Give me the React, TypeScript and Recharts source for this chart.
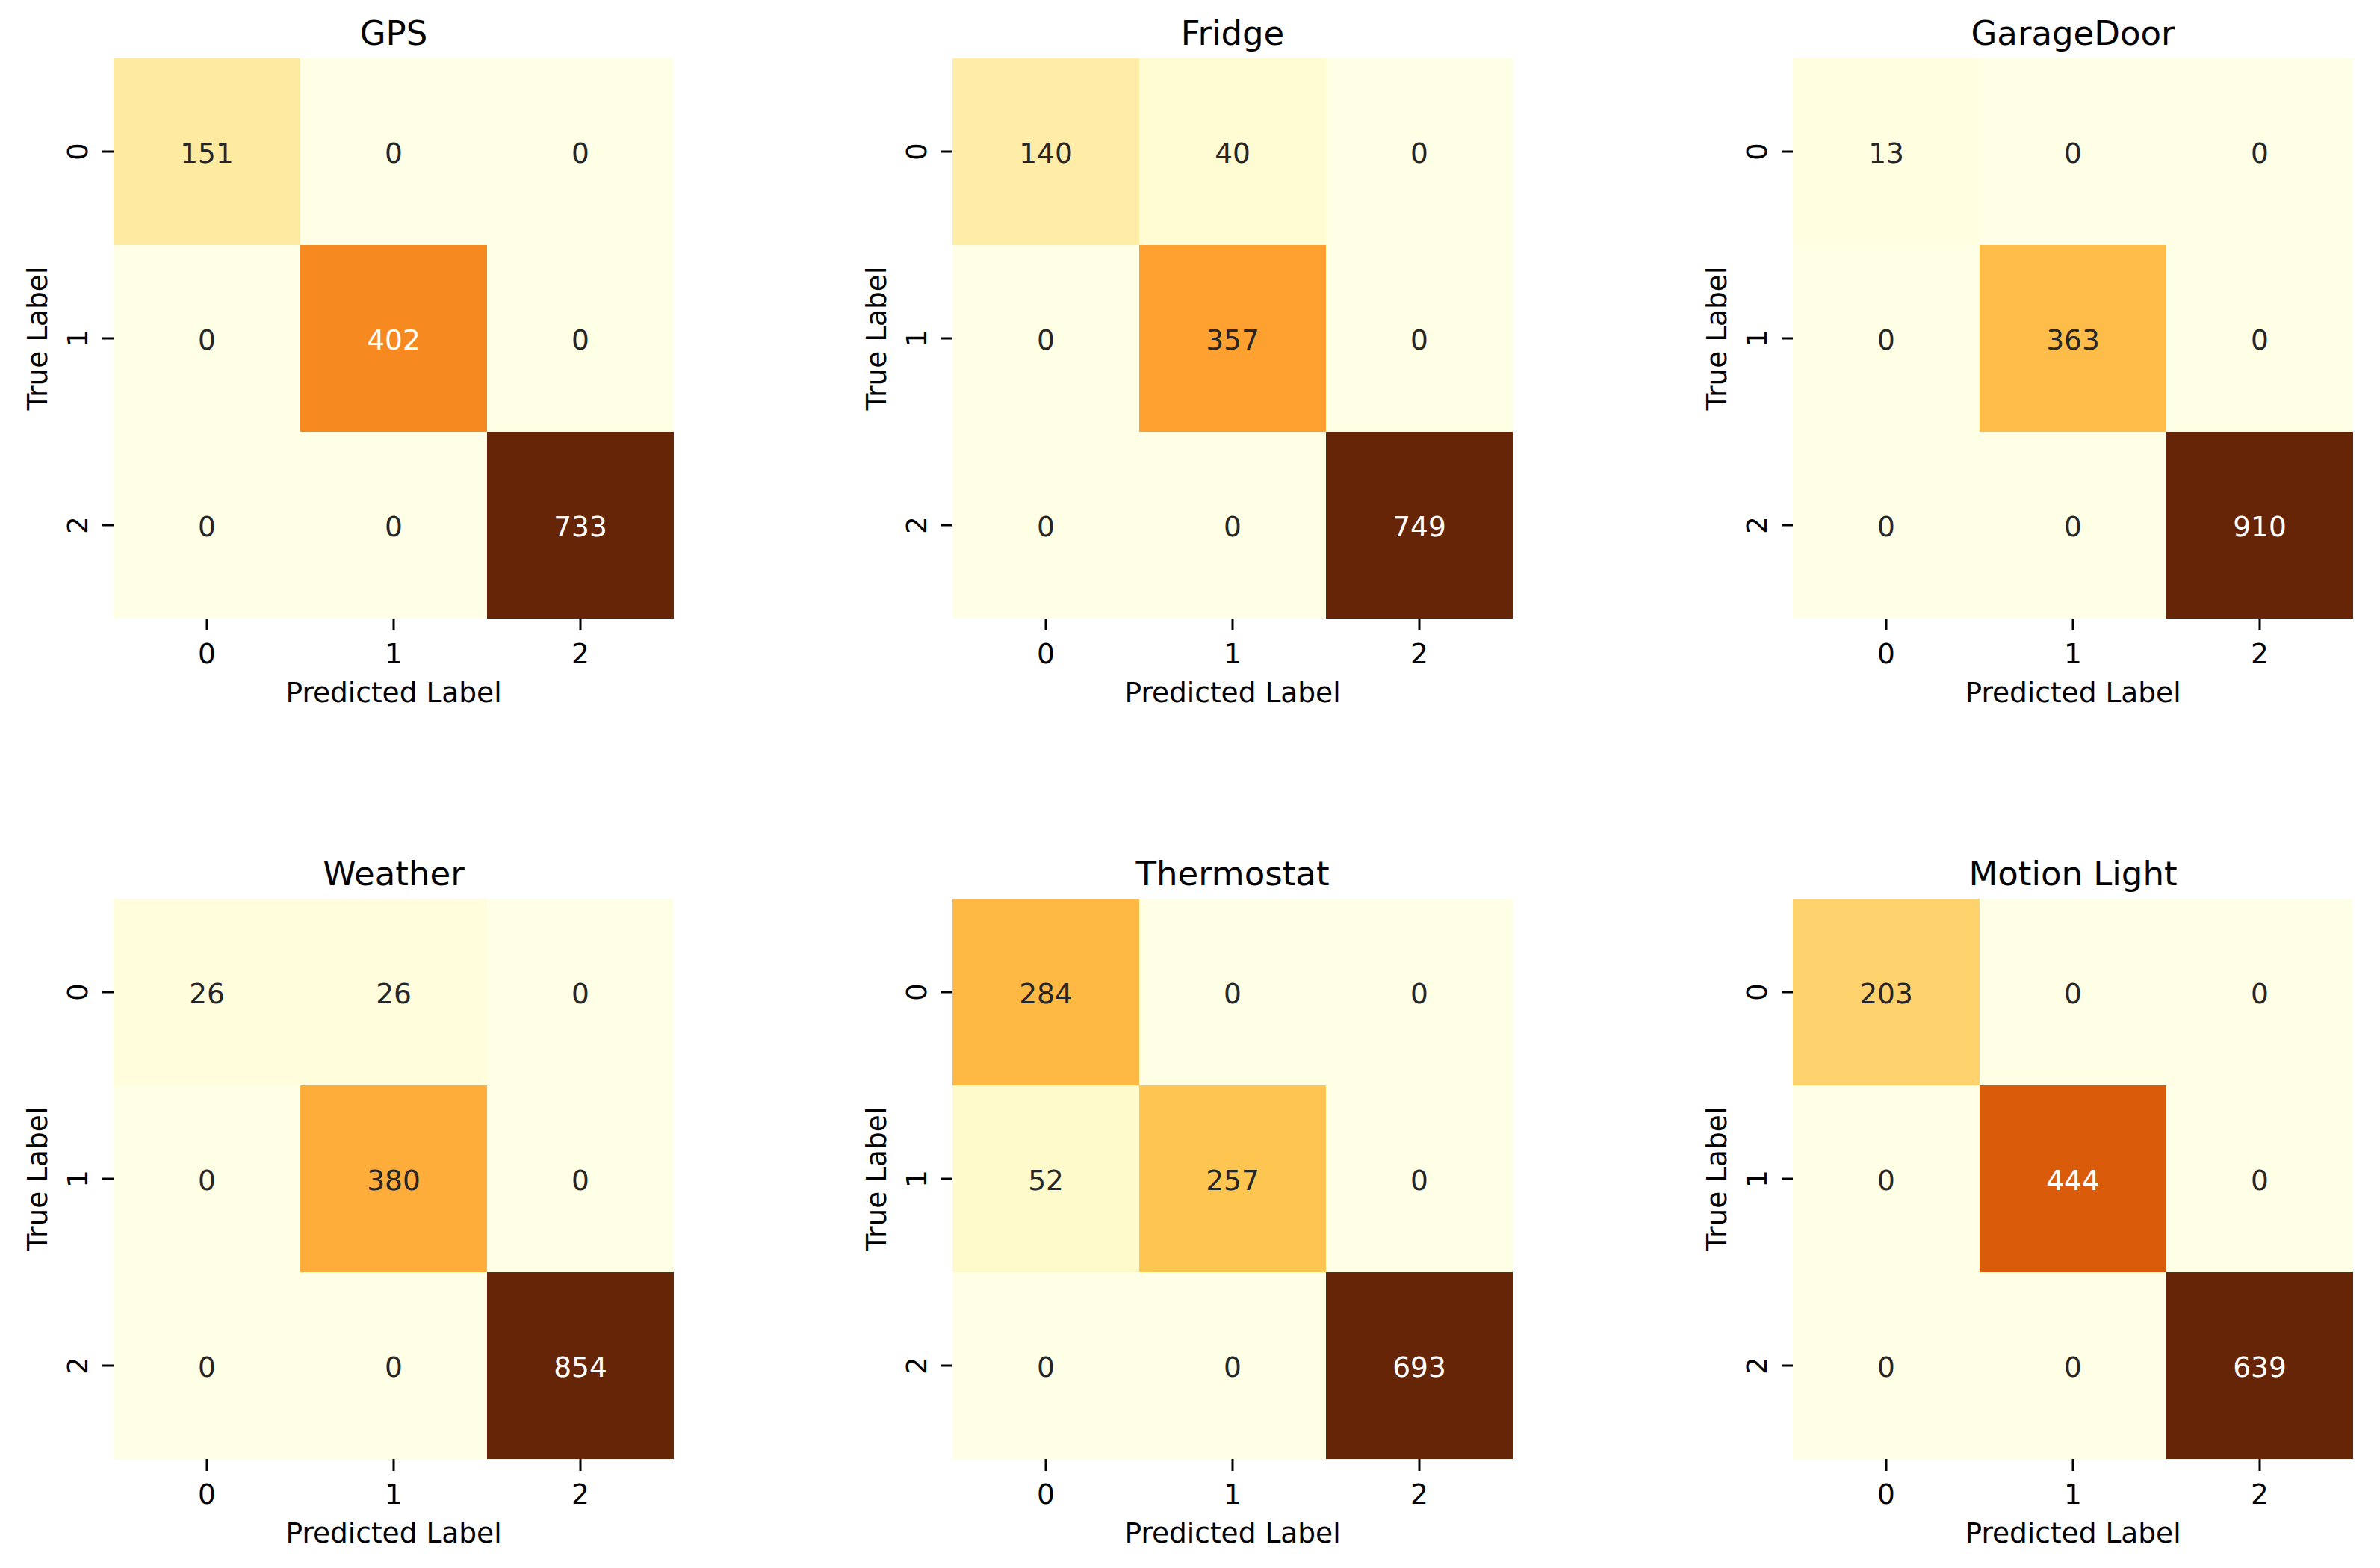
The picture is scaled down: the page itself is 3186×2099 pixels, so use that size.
import React from "react";
import { BarChart, Bar, XAxis, YAxis, Cell, LabelList } from "recharts";

// rows = true label, columns = predicted label
const titles = ["GPS", "Fridge", "GarageDoor", "Weather", "Thermostat", "Motion Light"];
const classLabels = ["0", "1", "2"];

const gps = [[151, 0, 0], [0, 402, 0], [0, 0, 733]];
const fridge = [[140, 40, 0], [0, 357, 0], [0, 0, 749]];
const garageDoor = [[13, 0, 0], [0, 363, 0], [0, 0, 910]];
const weather = [[26, 26, 0], [0, 380, 0], [0, 0, 854]];
const thermostat = [[284, 0, 0], [52, 257, 0], [0, 0, 693]];
const motionLight = [[203, 0, 0], [0, 444, 0], [0, 0, 639]];
const matrices = [gps, fridge, garageDoor, weather, thermostat, motionLight];

// matplotlib YlOrBr
const ylOrBr = ["#ffffe5", "#fff7bc", "#fee391", "#fec44f", "#fe9929", "#ec7014", "#cc4c02", "#993404", "#662506"];

const FONT = "'DejaVu Sans', sans-serif";
const PLOT = 750;
const AXIS_W = 150;
const AXIS_H = 150;
const TOP_M = 78;
const RIGHT_M = 100;
const TICK = 15;
const TICK_W = 3;
const plotLefts = [152, 1275, 2400];
const plotTops = [78, 1203];

const hexToRgb = (h: string) => [1, 3, 5].map((i) => parseInt(h.slice(i, i + 2), 16));

function cmap(t: number) {
  const s = Math.max(0, Math.min(1, t)) * (ylOrBr.length - 1);
  const i = Math.min(Math.floor(s), ylOrBr.length - 2);
  const f = s - i;
  const a = hexToRgb(ylOrBr[i]);
  const b = hexToRgb(ylOrBr[i + 1]);
  return a.map((c, k) => Math.round(c + (b[k] - c) * f));
}

const rgbStr = (c: number[]) => `rgb(${c[0]},${c[1]},${c[2]})`;

// seaborn's rule for annotation colour
function textColor(c: number[]) {
  const lin = c.map((v) => {
    const x = v / 255;
    return x <= 0.03928 ? x / 12.92 : Math.pow((x + 0.055) / 1.055, 2.4);
  });
  const lum = 0.2126 * lin[0] + 0.7152 * lin[1] + 0.0722 * lin[2];
  return lum > 0.408 ? "#262626" : "#ffffff";
}

function Matrix({ title, m, left, top }: { title: string; m: number[][]; left: number; top: number }) {
  const flat = m.flat();
  const vmin = Math.min(...flat);
  const vmax = Math.max(...flat);
  const norm = (v: number) => (v - vmin) / (vmax - vmin);

  const data = classLabels.map((p, j) => {
    const row: Record<string, any> = { pred: p };
    classLabels.forEach((_, i) => {
      row[`r${i}`] = 1;
      row[`v${i}`] = m[i][j];
    });
    return row;
  });

  const renderCellLabel = (props: any) => {
    const { x, y, width, height, value } = props;
    return (
      <text x={x + width / 2} y={y + height / 2 + 14.5} textAnchor="middle" fontSize={37.5} fontFamily={FONT} fill={textColor(cmap(norm(value)))}>
        {value}
      </text>
    );
  };

  // tick mark + rotated label at the tick's coordinate
  const renderYTick = (props: any) => {
    const { y, payload } = props;
    const tx = AXIS_W - 35;
    return (
      <g>
        <line x1={AXIS_W - TICK} x2={AXIS_W} y1={y} y2={y} stroke="#000" strokeWidth={TICK_W} />
        <text x={tx} y={y} transform={`rotate(-90 ${tx} ${y})`} textAnchor="middle" fontSize={37.5} fontFamily={FONT} fill="#000">
          {classLabels[Math.floor(payload.value)]}
        </text>
      </g>
    );
  };

  const renderXTick = (props: any) => {
    const { x, payload } = props;
    const base = TOP_M + PLOT;
    return (
      <g>
        <line x1={x} x2={x} y1={base} y2={base + TICK + 1} stroke="#000" strokeWidth={TICK_W} />
        <text x={x} y={base + 60} textAnchor="middle" fontSize={37.5} fontFamily={FONT} fill="#000">
          {payload.value}
        </text>
      </g>
    );
  };

  const renderTrueLabel = () => {
    const x = AXIS_W - 89;
    const y = TOP_M + PLOT / 2;
    return (
      <text x={x} y={y} transform={`rotate(-90 ${x} ${y})`} textAnchor="middle" fontSize={37.5} fontFamily={FONT} fill="#000">
        True Label
      </text>
    );
  };

  const renderPredLabel = () => (
    <text x={AXIS_W + PLOT / 2} y={TOP_M + PLOT + 112} textAnchor="middle" fontSize={37.5} fontFamily={FONT} fill="#000">
      Predicted Label
    </text>
  );

  return (
    <div style={{ position: "absolute", left: left - AXIS_W, top: top - TOP_M, width: AXIS_W + PLOT + RIGHT_M, height: TOP_M + PLOT + AXIS_H }}>
      <div style={{ position: "absolute", left: AXIS_W, width: PLOT, top: TOP_M - 56, fontSize: 45, lineHeight: "45px", textAlign: "center", fontFamily: FONT, color: "#000" }}>
        {title}
      </div>
      <BarChart
        width={AXIS_W + PLOT + RIGHT_M}
        height={TOP_M + PLOT + AXIS_H}
        data={data}
        margin={{ top: TOP_M, right: RIGHT_M, bottom: 0, left: 0 }}
        barCategoryGap={0}
        barGap={0}
      >
        <XAxis dataKey="pred" type="category" height={AXIS_H} axisLine={false} tickLine={false} interval={0} tick={renderXTick} label={renderPredLabel} />
        <YAxis
          type="number"
          domain={[0, 3]}
          reversed
          allowDataOverflow
          ticks={[0.5, 1.5, 2.5]}
          width={AXIS_W}
          axisLine={false}
          tickLine={false}
          tick={renderYTick}
          label={renderTrueLabel}
        />
        {classLabels.map((_, i) => (
          <Bar key={i} dataKey={`r${i}`} stackId="cm" isAnimationActive={false}>
            {classLabels.map((__, j) => (
              <Cell key={j} fill={rgbStr(cmap(norm(m[i][j])))} />
            ))}
            <LabelList dataKey={`v${i}`} content={renderCellLabel} />
          </Bar>
        ))}
      </BarChart>
    </div>
  );
}

export default function App() {
  return (
    <div style={{ position: "absolute", left: 0, top: 0, width: 3186, height: 2099, background: "#fff", overflow: "hidden" }}>
      {matrices.map((m, k) => (
        <Matrix key={k} title={titles[k]} m={m} left={plotLefts[k % 3]} top={plotTops[Math.floor(k / 3)]} />
      ))}
    </div>
  );
}
